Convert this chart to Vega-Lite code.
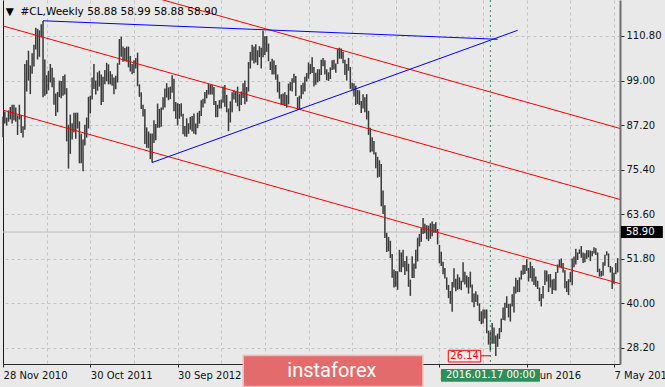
{
"$schema":"https://vega.github.io/schema/vega-lite/v6.json",
"width":617,"height":364,
"autosize":{"type":"none"},
"padding":{"left":3,"top":0,"right":45,"bottom":23},
"background":"#e9e9e9",
"config":{"view":{"stroke":null},"font":"DejaVu Sans"},
"data":{"values":[{"a":1}]},
"datasets":{
"bars":[
{"d":"2010-11-28","h":89.4,"l":84.0},{"d":"2010-12-05","h":90.8,"l":87.6},{"d":"2010-12-12","h":89.2,"l":87.1},{"d":"2010-12-19","h":91.1,"l":88.1},{"d":"2010-12-26","h":92.0,"l":88.7},
{"d":"2011-01-02","h":92.6,"l":87.6},{"d":"2011-01-09","h":92.6,"l":88.5},{"d":"2011-01-16","h":91.9,"l":88.1},{"d":"2011-01-23","h":89.8,"l":84.6},{"d":"2011-01-30","h":92.6,"l":88.7},
{"d":"2011-02-06","h":89.9,"l":85.1},{"d":"2011-02-13","h":86.9,"l":83.9},{"d":"2011-02-20","h":103.4,"l":86.0},{"d":"2011-02-27","h":104.4,"l":96.1},{"d":"2011-03-06","h":106.9,"l":99.0},
{"d":"2011-03-13","h":103.0,"l":95.4},{"d":"2011-03-20","h":106.2,"l":100.8},{"d":"2011-03-27","h":108.5,"l":102.7},{"d":"2011-04-03","h":113.0,"l":107.2},{"d":"2011-04-10","h":112.7,"l":104.6},
{"d":"2011-04-17","h":112.3,"l":105.3},{"d":"2011-04-24","h":113.9,"l":110.5},{"d":"2011-05-01","h":114.8,"l":94.6},{"d":"2011-05-08","h":104.6,"l":95.0},{"d":"2011-05-15","h":100.4,"l":95.4},
{"d":"2011-05-22","h":101.6,"l":96.4},{"d":"2011-05-29","h":103.4,"l":98.5},{"d":"2011-06-05","h":102.4,"l":97.2},{"d":"2011-06-12","h":99.8,"l":92.6},{"d":"2011-06-19","h":95.6,"l":89.6},
{"d":"2011-06-26","h":96.0,"l":90.6},{"d":"2011-07-03","h":99.0,"l":94.6},{"d":"2011-07-10","h":98.9,"l":94.3},{"d":"2011-07-17","h":100.2,"l":95.0},{"d":"2011-07-24","h":100.6,"l":95.3},
{"d":"2011-07-31","h":97.0,"l":82.9},{"d":"2011-08-07","h":87.3,"l":75.7},{"d":"2011-08-14","h":90.0,"l":79.6},{"d":"2011-08-21","h":87.7,"l":83.4},{"d":"2011-08-28","h":90.5,"l":85.3},
{"d":"2011-09-04","h":90.5,"l":83.6},{"d":"2011-09-11","h":90.5,"l":86.3},{"d":"2011-09-18","h":88.2,"l":77.1},{"d":"2011-09-25","h":84.9,"l":77.1},{"d":"2011-10-02","h":83.4,"l":75.0},
{"d":"2011-10-09","h":87.3,"l":81.8},{"d":"2011-10-16","h":89.2,"l":83.9},{"d":"2011-10-23","h":94.7,"l":86.3},{"d":"2011-10-30","h":95.0,"l":90.3},{"d":"2011-11-06","h":99.8,"l":94.0},
{"d":"2011-11-13","h":103.4,"l":96.8},{"d":"2011-11-20","h":99.0,"l":95.3},{"d":"2011-11-27","h":101.2,"l":96.3},{"d":"2011-12-04","h":101.6,"l":97.4},{"d":"2011-12-11","h":100.6,"l":92.5},
{"d":"2011-12-18","h":100.0,"l":93.3},{"d":"2011-12-25","h":101.8,"l":98.0},{"d":"2012-01-01","h":103.7,"l":98.8},{"d":"2012-01-08","h":103.3,"l":98.0},{"d":"2012-01-15","h":101.5,"l":98.0},
{"d":"2012-01-22","h":100.7,"l":97.6},{"d":"2012-01-29","h":99.8,"l":95.4},{"d":"2012-02-05","h":100.3,"l":96.7},{"d":"2012-02-12","h":103.6,"l":98.5},{"d":"2012-02-19","h":110.0,"l":103.2},
{"d":"2012-02-26","h":110.6,"l":105.3},{"d":"2012-03-04","h":108.0,"l":104.0},{"d":"2012-03-11","h":107.6,"l":104.1},{"d":"2012-03-18","h":108.0,"l":104.0},{"d":"2012-03-25","h":108.0,"l":102.5},
{"d":"2012-04-01","h":105.5,"l":101.4},{"d":"2012-04-08","h":103.4,"l":100.7},{"d":"2012-04-15","h":104.4,"l":101.0},{"d":"2012-04-22","h":105.0,"l":102.2},{"d":"2012-04-29","h":106.4,"l":97.5},
{"d":"2012-05-06","h":98.0,"l":94.7},{"d":"2012-05-13","h":95.9,"l":91.5},{"d":"2012-05-20","h":92.6,"l":89.5},{"d":"2012-05-27","h":91.5,"l":82.2},{"d":"2012-06-03","h":86.6,"l":81.2},
{"d":"2012-06-10","h":85.5,"l":81.1},{"d":"2012-06-17","h":85.0,"l":78.2},{"d":"2012-06-24","h":85.0,"l":77.3},{"d":"2012-07-01","h":88.5,"l":82.5},{"d":"2012-07-08","h":87.5,"l":83.2},
{"d":"2012-07-15","h":92.9,"l":86.5},{"d":"2012-07-22","h":91.5,"l":86.5},{"d":"2012-07-29","h":91.9,"l":86.8},{"d":"2012-08-05","h":94.6,"l":91.3},{"d":"2012-08-12","h":96.9,"l":91.9},
{"d":"2012-08-19","h":98.3,"l":94.5},{"d":"2012-08-26","h":97.2,"l":93.8},{"d":"2012-09-02","h":97.4,"l":94.1},{"d":"2012-09-09","h":100.4,"l":95.8},{"d":"2012-09-16","h":99.5,"l":90.9},
{"d":"2012-09-23","h":93.3,"l":88.9},{"d":"2012-09-30","h":93.0,"l":87.1},{"d":"2012-10-07","h":92.8,"l":88.9},{"d":"2012-10-14","h":93.0,"l":89.5},{"d":"2012-10-21","h":90.2,"l":84.8},
{"d":"2012-10-28","h":87.0,"l":84.2},{"d":"2012-11-04","h":89.0,"l":84.1},{"d":"2012-11-11","h":87.7,"l":84.9},{"d":"2012-11-18","h":89.4,"l":86.0},{"d":"2012-11-25","h":89.6,"l":85.5},
{"d":"2012-12-02","h":90.3,"l":84.9},{"d":"2012-12-09","h":87.6,"l":84.7},{"d":"2012-12-16","h":90.5,"l":86.4},{"d":"2012-12-23","h":91.0,"l":87.6},{"d":"2012-12-30","h":93.8,"l":89.6},
{"d":"2013-01-06","h":94.2,"l":91.9},{"d":"2013-01-13","h":96.0,"l":92.9},{"d":"2013-01-20","h":96.5,"l":94.3},{"d":"2013-01-27","h":98.2,"l":95.3},{"d":"2013-02-03","h":97.9,"l":95.3},
{"d":"2013-02-10","h":97.9,"l":95.3},{"d":"2013-02-17","h":97.3,"l":92.5},{"d":"2013-02-24","h":93.6,"l":89.3},{"d":"2013-03-03","h":92.6,"l":89.3},{"d":"2013-03-10","h":93.8,"l":91.6},
{"d":"2013-03-17","h":94.0,"l":91.6},{"d":"2013-03-24","h":97.4,"l":93.1},{"d":"2013-03-31","h":97.8,"l":92.1},{"d":"2013-04-07","h":95.2,"l":90.6},{"d":"2013-04-14","h":91.6,"l":85.6},
{"d":"2013-04-21","h":93.5,"l":87.9},{"d":"2013-04-28","h":95.9,"l":90.6},{"d":"2013-05-05","h":96.4,"l":94.0},{"d":"2013-05-12","h":96.1,"l":93.1},{"d":"2013-05-19","h":97.4,"l":92.2},
{"d":"2013-05-26","h":95.5,"l":90.9},{"d":"2013-06-02","h":96.1,"l":92.5},{"d":"2013-06-09","h":98.3,"l":94.4},{"d":"2013-06-16","h":99.0,"l":92.7},{"d":"2013-06-23","h":97.3,"l":93.4},
{"d":"2013-06-30","h":103.9,"l":96.1},{"d":"2013-07-07","h":106.6,"l":102.2},{"d":"2013-07-14","h":108.5,"l":104.3},{"d":"2013-07-21","h":108.0,"l":103.5},{"d":"2013-07-28","h":108.6,"l":103.8},
{"d":"2013-08-04","h":107.0,"l":103.1},{"d":"2013-08-11","h":108.1,"l":105.2},{"d":"2013-08-18","h":107.7,"l":102.2},{"d":"2013-08-25","h":112.2,"l":105.2},{"d":"2013-09-01","h":110.7,"l":105.8},
{"d":"2013-09-08","h":110.8,"l":106.6},{"d":"2013-09-15","h":108.8,"l":104.1},{"d":"2013-09-22","h":104.0,"l":101.8},{"d":"2013-09-29","h":104.8,"l":100.6},{"d":"2013-10-06","h":104.3,"l":100.6},
{"d":"2013-10-13","h":103.1,"l":99.2},{"d":"2013-10-20","h":100.6,"l":95.9},{"d":"2013-10-27","h":98.7,"l":94.2},{"d":"2013-11-03","h":95.4,"l":92.6},{"d":"2013-11-10","h":95.6,"l":92.5},
{"d":"2013-11-17","h":95.9,"l":92.3},{"d":"2013-11-24","h":95.2,"l":91.8},{"d":"2013-12-01","h":98.2,"l":92.7},{"d":"2013-12-08","h":98.6,"l":96.3},{"d":"2013-12-15","h":99.6,"l":96.1},
{"d":"2013-12-22","h":100.8,"l":98.4},{"d":"2013-12-29","h":100.2,"l":94.9},{"d":"2014-01-05","h":94.6,"l":91.2},{"d":"2014-01-12","h":95.0,"l":91.2},{"d":"2014-01-19","h":97.8,"l":94.2},
{"d":"2014-01-26","h":98.4,"l":95.4},{"d":"2014-02-02","h":100.0,"l":96.1},{"d":"2014-02-09","h":101.0,"l":98.8},{"d":"2014-02-16","h":103.8,"l":99.5},{"d":"2014-02-23","h":103.4,"l":100.7},
{"d":"2014-03-02","h":105.2,"l":101.0},{"d":"2014-03-09","h":102.6,"l":97.4},{"d":"2014-03-16","h":101.1,"l":97.9},{"d":"2014-03-23","h":102.0,"l":98.5},{"d":"2014-03-30","h":102.0,"l":98.9},
{"d":"2014-04-06","h":104.5,"l":100.5},{"d":"2014-04-13","h":105.0,"l":102.8},{"d":"2014-04-20","h":104.4,"l":100.6},{"d":"2014-04-27","h":102.0,"l":99.1},{"d":"2014-05-04","h":101.2,"l":98.9},
{"d":"2014-05-11","h":102.5,"l":99.4},{"d":"2014-05-18","h":104.4,"l":101.8},{"d":"2014-05-25","h":104.5,"l":101.9},{"d":"2014-06-01","h":103.5,"l":101.1},{"d":"2014-06-08","h":107.5,"l":103.4},
{"d":"2014-06-15","h":107.7,"l":104.8},{"d":"2014-06-22","h":107.5,"l":104.8},{"d":"2014-06-29","h":106.6,"l":103.6},{"d":"2014-07-06","h":104.5,"l":100.5},{"d":"2014-07-13","h":103.4,"l":99.0},
{"d":"2014-07-20","h":105.0,"l":101.6},{"d":"2014-07-27","h":102.6,"l":96.8},{"d":"2014-08-03","h":98.4,"l":96.6},{"d":"2014-08-10","h":98.3,"l":94.8},{"d":"2014-08-17","h":97.6,"l":92.5},
{"d":"2014-08-24","h":96.5,"l":92.8},{"d":"2014-08-31","h":96.4,"l":92.5},{"d":"2014-09-07","h":93.6,"l":90.4},{"d":"2014-09-14","h":95.4,"l":91.6},{"d":"2014-09-21","h":94.6,"l":90.6},
{"d":"2014-09-28","h":95.4,"l":88.7},{"d":"2014-10-05","h":91.0,"l":84.6},{"d":"2014-10-12","h":86.5,"l":80.0},{"d":"2014-10-19","h":84.0,"l":80.2},{"d":"2014-10-26","h":83.0,"l":79.4},
{"d":"2014-11-02","h":80.0,"l":75.8},{"d":"2014-11-09","h":78.8,"l":73.3},{"d":"2014-11-16","h":77.9,"l":73.5},{"d":"2014-11-23","h":76.9,"l":65.7},{"d":"2014-11-30","h":69.9,"l":63.7},
{"d":"2014-12-07","h":66.0,"l":57.3},{"d":"2014-12-14","h":58.7,"l":53.6},{"d":"2014-12-21","h":57.6,"l":53.8},{"d":"2014-12-28","h":56.6,"l":52.0},{"d":"2015-01-04","h":53.1,"l":46.8},
{"d":"2015-01-11","h":49.0,"l":44.2},{"d":"2015-01-18","h":48.6,"l":44.4},{"d":"2015-01-25","h":48.5,"l":43.6},{"d":"2015-02-01","h":54.2,"l":48.4},{"d":"2015-02-08","h":53.5,"l":48.3},
{"d":"2015-02-15","h":54.2,"l":49.6},{"d":"2015-02-22","h":51.2,"l":47.5},{"d":"2015-03-01","h":52.5,"l":48.5},{"d":"2015-03-08","h":50.5,"l":44.4},{"d":"2015-03-15","h":46.3,"l":42.0},
{"d":"2015-03-22","h":52.5,"l":46.7},{"d":"2015-03-29","h":50.6,"l":46.7},{"d":"2015-04-05","h":54.2,"l":49.2},{"d":"2015-04-12","h":57.4,"l":51.1},{"d":"2015-04-19","h":58.4,"l":55.1},
{"d":"2015-04-26","h":59.9,"l":56.3},{"d":"2015-05-03","h":62.6,"l":58.4},{"d":"2015-05-10","h":61.1,"l":58.6},{"d":"2015-05-17","h":60.7,"l":57.0},{"d":"2015-05-24","h":60.6,"l":56.5},
{"d":"2015-05-31","h":61.2,"l":57.1},{"d":"2015-06-07","h":61.7,"l":57.8},{"d":"2015-06-14","h":61.0,"l":58.7},{"d":"2015-06-21","h":61.5,"l":58.7},{"d":"2015-06-28","h":59.7,"l":55.6},
{"d":"2015-07-05","h":55.5,"l":50.6},{"d":"2015-07-12","h":53.7,"l":49.9},{"d":"2015-07-19","h":51.0,"l":47.7},{"d":"2015-07-26","h":49.4,"l":46.6},{"d":"2015-08-02","h":46.9,"l":43.6},
{"d":"2015-08-09","h":44.9,"l":41.4},{"d":"2015-08-16","h":43.3,"l":39.9},{"d":"2015-08-23","h":45.7,"l":37.8},{"d":"2015-08-30","h":49.3,"l":44.2},{"d":"2015-09-06","h":46.5,"l":43.2},
{"d":"2015-09-13","h":47.7,"l":43.6},{"d":"2015-09-20","h":46.9,"l":43.8},{"d":"2015-09-27","h":46.0,"l":43.5},{"d":"2015-10-04","h":50.9,"l":45.6},{"d":"2015-10-11","h":48.4,"l":45.0},
{"d":"2015-10-18","h":47.4,"l":44.2},{"d":"2015-10-25","h":47.0,"l":42.6},{"d":"2015-11-01","h":48.4,"l":44.2},{"d":"2015-11-08","h":45.0,"l":40.3},{"d":"2015-11-15","h":42.6,"l":39.0},
{"d":"2015-11-22","h":43.2,"l":40.4},{"d":"2015-11-29","h":42.3,"l":39.4},{"d":"2015-12-06","h":40.0,"l":35.3},{"d":"2015-12-13","h":37.9,"l":34.5},{"d":"2015-12-20","h":38.4,"l":34.7},
{"d":"2015-12-27","h":38.4,"l":36.0},{"d":"2016-01-03","h":38.4,"l":32.1},{"d":"2016-01-10","h":32.8,"l":29.1},{"d":"2016-01-17","h":32.4,"l":27.6},{"d":"2016-01-24","h":34.8,"l":29.3},
{"d":"2016-01-31","h":33.6,"l":29.3},{"d":"2016-02-07","h":31.5,"l":26.1},{"d":"2016-02-14","h":32.0,"l":28.5},{"d":"2016-02-21","h":33.5,"l":30.6},{"d":"2016-02-28","h":36.0,"l":32.4},
{"d":"2016-03-06","h":38.9,"l":35.6},{"d":"2016-03-13","h":40.2,"l":35.5},{"d":"2016-03-20","h":41.9,"l":38.8},{"d":"2016-03-27","h":39.9,"l":36.3},{"d":"2016-04-03","h":39.9,"l":35.2},
{"d":"2016-04-10","h":42.4,"l":39.2},{"d":"2016-04-17","h":44.5,"l":37.6},{"d":"2016-04-24","h":46.8,"l":42.6},{"d":"2016-05-01","h":46.2,"l":43.0},{"d":"2016-05-08","h":46.9,"l":43.0},
{"d":"2016-05-15","h":48.7,"l":46.3},{"d":"2016-05-22","h":50.2,"l":47.6},{"d":"2016-05-29","h":50.2,"l":47.8},{"d":"2016-06-05","h":51.7,"l":48.6},{"d":"2016-06-12","h":49.4,"l":45.8},
{"d":"2016-06-19","h":51.0,"l":46.7},{"d":"2016-06-26","h":49.9,"l":45.8},{"d":"2016-07-03","h":49.3,"l":44.9},{"d":"2016-07-10","h":47.1,"l":44.4},{"d":"2016-07-17","h":46.0,"l":43.8},
{"d":"2016-07-24","h":44.2,"l":40.6},{"d":"2016-07-31","h":42.5,"l":39.2},{"d":"2016-08-07","h":44.6,"l":41.3},{"d":"2016-08-14","h":48.8,"l":44.9},{"d":"2016-08-21","h":48.7,"l":45.8},
{"d":"2016-08-28","h":47.7,"l":43.0},{"d":"2016-09-04","h":47.8,"l":44.2},{"d":"2016-09-11","h":46.3,"l":42.5},{"d":"2016-09-18","h":46.5,"l":43.5},{"d":"2016-09-25","h":48.3,"l":43.4},
{"d":"2016-10-02","h":50.3,"l":48.1},{"d":"2016-10-09","h":51.6,"l":49.5},{"d":"2016-10-16","h":51.9,"l":49.3},{"d":"2016-10-23","h":50.7,"l":48.2},{"d":"2016-10-30","h":48.8,"l":44.0},
{"d":"2016-11-06","h":45.9,"l":43.0},{"d":"2016-11-13","h":46.4,"l":42.2},{"d":"2016-11-20","h":48.3,"l":45.6},{"d":"2016-11-27","h":51.9,"l":44.8},{"d":"2016-12-04","h":52.4,"l":49.6},
{"d":"2016-12-11","h":54.5,"l":50.3},{"d":"2016-12-18","h":53.5,"l":51.5},{"d":"2016-12-25","h":54.3,"l":53.1},{"d":"2017-01-01","h":55.2,"l":52.1},{"d":"2017-01-08","h":53.5,"l":50.7},
{"d":"2017-01-15","h":53.3,"l":50.9},{"d":"2017-01-22","h":54.1,"l":51.8},{"d":"2017-01-29","h":54.1,"l":52.2},{"d":"2017-02-05","h":54.0,"l":51.2},{"d":"2017-02-12","h":53.9,"l":52.5},
{"d":"2017-02-19","h":54.9,"l":53.2},{"d":"2017-02-26","h":54.6,"l":52.8},{"d":"2017-03-05","h":53.5,"l":48.3},{"d":"2017-03-12","h":49.2,"l":47.1},{"d":"2017-03-19","h":48.6,"l":47.1},
{"d":"2017-03-26","h":50.9,"l":47.3},{"d":"2017-04-02","h":52.9,"l":50.0},{"d":"2017-04-09","h":53.8,"l":52.7},{"d":"2017-04-16","h":53.2,"l":49.6},{"d":"2017-04-23","h":49.9,"l":48.2},
{"d":"2017-04-30","h":49.6,"l":43.8},{"d":"2017-05-07","h":48.1,"l":45.2},{"d":"2017-05-14","h":50.7,"l":47.7},{"d":"2017-05-21","h":52.0,"l":48.2}
],
"chan":[
{"g":"a","d":"2010-11-21","p":132.39},{"g":"a","d":"2017-06-11","p":86.09},
{"g":"b","d":"2010-11-21","p":113.59},{"g":"b","d":"2017-06-11","p":67.29},
{"g":"c","d":"2010-11-21","p":91.30},{"g":"c","d":"2017-06-11","p":45.0}
],
"blue":[
{"g":"t","d":"2011-05-01","p":114.83},{"g":"t","d":"2016-02-14","p":109.93},
{"g":"r","d":"2012-06-24","p":77.3},{"g":"r","d":"2016-05-01","p":112.3}
]
},
"layer":[
{"mark":{"type":"rule","color":"#bdbdbd","strokeWidth":1},
 "encoding":{"y":{"datum":58.9,"type":"quantitative","axis":null}}},
{"data":{"name":"bars"},
 "mark":{"type":"rule","color":"#3a3a3a","strokeWidth":1.5},
 "encoding":{
  "x":{"field":"d","type":"temporal",
   "scale":{"type":"utc","domain":[{"year":2010,"month":11,"date":27,"hours":22,"utc":true},{"year":2017,"month":5,"date":30,"hours":2,"utc":true}]},
   "axis":{"orient":"bottom","title":null,
    "values":[{"year":2010,"month":11,"date":28,"utc":true},{"year":2011,"month":5,"date":15,"utc":true},{"year":2011,"month":10,"date":30,"utc":true},{"year":2012,"month":4,"date":15,"utc":true},{"year":2012,"month":9,"date":30,"utc":true},{"year":2013,"month":3,"date":17,"utc":true},{"year":2013,"month":9,"date":1,"utc":true},{"year":2014,"month":2,"date":16,"utc":true},{"year":2014,"month":8,"date":3,"utc":true},{"year":2015,"month":1,"date":18,"utc":true},{"year":2015,"month":7,"date":5,"utc":true},{"year":2015,"month":12,"date":20,"utc":true},{"year":2016,"month":6,"date":5,"utc":true},{"year":2016,"month":11,"date":20,"utc":true},{"year":2017,"month":5,"date":7,"utc":true}],
    "grid":true,"gridColor":"#c4c4c4","gridDash":[3,3],"gridWidth":1,
    "domainColor":"#2a2a2a","domainWidth":1,
    "tickColor":"#2a2a2a","tickSize":3,
    "tickOpacity":{"condition":{"test":"round((datum.value-utc(2010,10,28))/604800000)%48!=0","value":0},"value":1},
    "labelExpr":"(round((datum.value-utc(2010,10,28))/604800000)%48==0 && round((datum.value-utc(2010,10,28))/604800000)!=144 && round((datum.value-utc(2010,10,28))/604800000)!=192)?utcFormat(datum.value,'%-d %b %Y'):''",
    "labelAlign":"left","labelBaseline":"top","labelPadding":3.5,
    "labelFont":"DejaVu Sans","labelFontSize":10,"labelColor":"#111111",
    "labelFlush":false,"labelOverlap":false,"labelBound":false}},
  "y":{"field":"l","type":"quantitative",
   "scale":{"domain":[23.96,120.33],"nice":false,"zero":false},
   "axis":{"orient":"right","title":null,"values":[28.2,40,51.8,63.6,75.4,87.2,99,110.8],"format":".2f",
    "grid":true,"gridColor":"#c4c4c4","gridDash":[3,3],"gridWidth":1,
    "domainColor":"#6e6e6e","domainWidth":2,"tickColor":"#2a2a2a","tickSize":4,
    "labelPadding":2,"labelFont":"DejaVu Sans","labelFontSize":10,"labelColor":"#111111"}},
  "y2":{"field":"h"}}},
{"data":{"name":"chan"},
 "mark":{"type":"line","color":"#ff0000","strokeWidth":1,"clip":true},
 "encoding":{"x":{"field":"d","type":"temporal","axis":null},"y":{"field":"p","type":"quantitative","axis":null},"detail":{"field":"g"}}},
{"data":{"name":"blue"},
 "mark":{"type":"line","color":"#0000ff","strokeWidth":1},
 "encoding":{"x":{"field":"d","type":"temporal","axis":null},
  "y":{"field":"p","type":"quantitative","axis":{"orient":"left","title":null,"grid":false,"ticks":false,"labels":false,"domainColor":"#1a1a1a","domainWidth":1}},
  "detail":{"field":"g"}}},
{"mark":{"type":"rule","color":"#2f8f5a","strokeWidth":1,"strokeDash":[2,3]},
 "encoding":{"x":{"datum":{"year":2016,"month":1,"date":17,"utc":true},"type":"temporal","axis":null}}},
{"mark":{"type":"rule","color":"#ff0000","strokeWidth":1},
 "encoding":{"x":{"datum":{"year":2015,"month":12,"date":11,"utc":true},"type":"temporal","axis":null},"x2":{"datum":{"year":2016,"month":1,"date":17,"utc":true}},"y":{"datum":26.14,"type":"quantitative","axis":null}}},
{"mark":{"type":"rect","fill":"#f3eded","stroke":"#ff0000","strokeWidth":1},
 "encoding":{"x":{"datum":{"year":2015,"month":8,"date":8,"utc":true},"type":"temporal","axis":null},"x2":{"datum":{"year":2015,"month":12,"date":11,"utc":true}},"y":{"datum":27.58,"type":"quantitative","axis":null},"y2":{"datum":24.49}}},
{"mark":{"type":"text","text":"26.14","color":"#ff0000","font":"DejaVu Sans","fontSize":10,"align":"center","baseline":"middle"},
 "encoding":{"x":{"datum":{"year":2015,"month":10,"date":10,"utc":true},"type":"temporal","axis":null},"y":{"datum":26.06,"type":"quantitative","axis":null}}},
{"mark":{"type":"rect","fill":"#2f8f5a"},
 "encoding":{"x":{"datum":{"year":2015,"month":7,"date":11,"utc":true},"type":"temporal","axis":null},"x2":{"datum":{"year":2016,"month":7,"date":26,"utc":true}},"y":{"datum":22.63,"type":"quantitative","axis":null},"y2":{"datum":19.27}}},
{"mark":{"type":"text","text":"2016.01.17 00:00","color":"#ffffff","font":"DejaVu Sans","fontSize":10,"align":"center","baseline":"middle"},
 "encoding":{"x":{"datum":{"year":2016,"month":1,"date":18,"utc":true},"type":"temporal","axis":null},"y":{"datum":20.97,"type":"quantitative","axis":null}}},
{"mark":{"type":"rect","fill":"#e36b6b","stroke":"#f2b8b8","strokeWidth":1.5},
 "encoding":{"x":{"datum":{"year":2013,"month":6,"date":10,"utc":true},"type":"temporal","axis":null},"x2":{"datum":{"year":2015,"month":5,"date":2,"utc":true}},"y":{"datum":26.21,"type":"quantitative","axis":null},"y2":{"datum":18.0}}},
{"mark":{"type":"text","text":"instaforex","color":"#ffffff","font":"Roboto","fontSize":20,"align":"center","baseline":"alphabetic"},
 "encoding":{"x":{"datum":{"year":2014,"month":5,"date":17,"utc":true},"type":"temporal","axis":null},"y":{"datum":20.6,"type":"quantitative","axis":null}}},
{"mark":{"type":"rect","fill":"#000000"},
 "encoding":{"x":{"datum":{"year":2017,"month":6,"date":3,"utc":true},"type":"temporal","axis":null},"x2":{"datum":{"year":2017,"month":11,"date":11,"utc":true}},"y":{"datum":60.5,"type":"quantitative","axis":null},"y2":{"datum":57.32}}},
{"mark":{"type":"text","text":"58.90","color":"#ffffff","font":"DejaVu Sans","fontSize":10,"align":"left","baseline":"middle"},
 "encoding":{"x":{"datum":{"year":2017,"month":6,"date":22,"utc":true},"type":"temporal","axis":null},"y":{"datum":58.9,"type":"quantitative","axis":null}}},
{"mark":{"type":"text","text":"▼\u00a0\u00a0#CL,Weekly  58.88 58.99 58.88 58.90","color":"#000000","font":"DejaVu Sans","fontSize":10.5,"align":"left","baseline":"middle"},
 "encoding":{"x":{"datum":{"year":2010,"month":12,"date":8,"hours":19,"utc":true},"type":"temporal","axis":null},"y":{"datum":117.23,"type":"quantitative","axis":null}}}
],
"resolve":{"axis":{"x":"independent","y":"independent"}}
}
